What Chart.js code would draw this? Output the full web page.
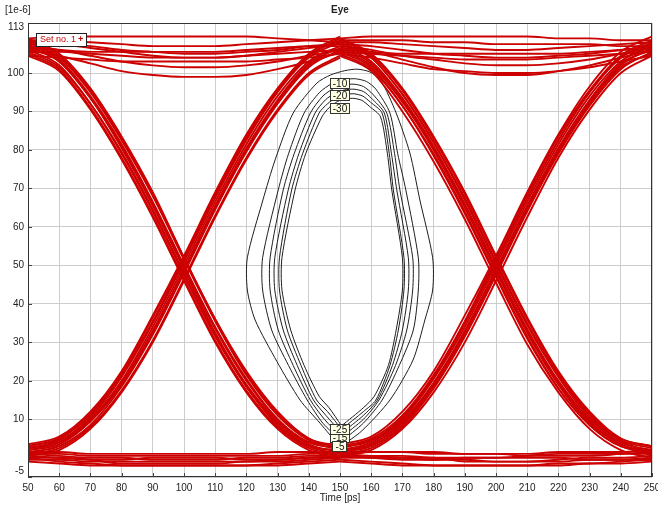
<!DOCTYPE html>
<html>
<head>
<meta charset="utf-8">
<script src="https://cdn.jsdelivr.net/npm/chart.js@4.4.1/dist/chart.umd.min.js"></script>
<style>
  html, body { margin: 0; padding: 0; background: #fff; }
</style>
</head>
<body>
<canvas id="eye" width="658" height="508"></canvas>
<script>
// time axis samples [ps] for the two bit windows of the eye
const timeLeft = [50, 60, 70, 80, 90, 100, 110, 120, 130, 140, 150]
const timeRight = [150, 160, 170, 180, 190, 200, 210, 220, 230, 240, 250]

const yTicks = [-5, 10, 20, 30, 40, 50, 60, 70, 80, 90, 100, 113]

// traces, values in 1e-6
const fallLeft = [
    [108, 104, 95, 82.5, 68, 51.5, 35.5, 21.5, 11, 4.5, 2],
    [106, 102, 92, 79.5, 64.5, 48, 32, 18.5, 9, 3, 1],
    [105, 101, 91, 78, 63, 46.5, 30.5, 17.5, 8, 2.5, 0.5],
    [107.5, 103.5, 94, 81.5, 66.5, 50, 34, 20.5, 10, 4, 2.5],
    [104.5, 100.5, 90.5, 77.5, 62.5, 46, 30, 17, 7.5, 2, 0],
    [108.5, 104.5, 95.5, 83, 68.5, 52, 36, 22, 11.5, 5, 3],
    [106.5, 103, 93.5, 81, 66, 49.5, 33.5, 20, 10, 4, 3.5],
    [107, 103, 93.5, 80.5, 65.5, 49, 32.5, 19, 9.5, 3.5, 1.5],
    [105.5, 101.5, 92, 79, 64, 47.5, 31.5, 18.5, 8.5, 3, 2],
    [109, 105, 96, 83.5, 69, 52, 36, 22.5, 12, 5, 2.5]
]
const riseLeft = [
    [2.5, 4.5, 10.5, 21, 35, 51, 67.5, 82.5, 95, 104, 108],
    [1.5, 3, 8.5, 18.5, 32, 48, 64.5, 79.5, 92, 101.5, 106],
    [3, 5, 11.5, 22, 36.5, 52, 68.5, 83.5, 95.5, 104.5, 108.5],
    [1, 2.5, 8, 17.5, 30.5, 46.5, 63, 78, 90.5, 100, 104.5],
    [2, 4, 10, 20, 34, 50, 66.5, 81.5, 94, 103, 107],
    [3.5, 5.5, 12, 22.5, 37, 52.5, 69, 84, 96, 105, 109.5],
    [0.5, 2, 7.5, 17, 30, 46, 62.5, 77.5, 90, 99.5, 104],
    [2, 3.5, 9.5, 19.5, 33, 49, 65.5, 80.5, 93, 102.5, 106.5],
    [2.5, 4, 9.5, 19, 32.5, 48.5, 65, 80, 92.5, 102, 105.5],
    [3, 5, 11, 21.5, 35.5, 51.5, 68, 83, 95.5, 104.5, 109]
]
const highLeft = [
    [107, 106, 104.5, 103, 102, 101.5, 101.5, 102, 103, 104.5, 106],
    [108.5, 108.5, 108, 107.5, 107, 107, 107, 107.5, 108, 108.5, 109],
    [106, 104.5, 102.5, 100.5, 99.5, 99, 99, 99.5, 101, 103, 105.5],
    [109, 109.5, 109.5, 109.5, 109.5, 109.5, 109.5, 109.5, 109, 108.5, 108],
    [105.5, 105.5, 105, 104.5, 104, 104, 104, 104.5, 105, 105.5, 106],
    [107.5, 107.5, 107, 106, 105.5, 105, 105, 105.5, 106, 107, 107.5],
    [106.5, 106, 105.5, 105.5, 105.5, 105.5, 105.5, 106, 106.5, 107, 107],
    [104.5, 104, 103.5, 103, 103, 103, 103, 103, 103.5, 104, 105],
    [108, 107.5, 106.5, 105.5, 104.5, 104, 104, 104.5, 105.5, 106.5, 107.5]
]
const lowLeft = [
    [-0.5, -0.5, -1, -1, -1, -1, -1, -1, -0.5, 0, 0.5],
    [1, 1, 0.5, 0.5, 0.5, 0.5, 0.5, 0.5, 0.5, 1, 1],
    [0, -1, -1.5, -2, -2, -2, -2, -2, -1.5, -1, -0.5],
    [1.5, 1.5, 1, 1, 1, 1, 1, 1, 1.5, 1.5, 1.5],
    [0.5, 0, -0.5, -0.5, 0, 0, 0, -0.5, -0.5, 0, 0],
    [-1, -1.5, -2, -2, -2, -2, -2, -2, -2, -1.5, -1],
    [0, 0, -0.5, -1.5, -1.5, -1.5, -1.5, -1, -1, -0.5, 0],
    [1, 0.5, 0, 0, -0.5, -0.5, -0.5, 0, 0, 0.5, 0.5]
]
const fallRight = [
    [107, 103, 93.5, 81, 66, 49.5, 33.5, 20, 10, 4, 2],
    [105.5, 101.5, 91.5, 79, 64, 47.5, 31.5, 18, 8.5, 3, 1],
    [108.5, 104.5, 95.5, 83, 68.5, 52, 36, 22, 11.5, 5, 3],
    [106, 102, 92.5, 80, 65, 48.5, 32.5, 19, 9, 3.5, 0.5],
    [104.5, 100.5, 90, 77, 62, 45.5, 29.5, 17, 7.5, 2, 0],
    [107.5, 104, 94.5, 82, 67, 50.5, 34.5, 21, 10.5, 4.5, 2.5],
    [109, 105, 96, 83.5, 69, 52.5, 36.5, 22.5, 12, 5, 3],
    [106.5, 102.5, 93, 80.5, 65.5, 49, 33, 19.5, 9.5, 3.5, 1.5],
    [105, 101, 91.5, 78.5, 63.5, 47, 31, 18, 8.5, 3, 2],
    [108, 104, 94.5, 82, 67.5, 51, 35, 21.5, 11, 4.5, 1]
]
const riseRight = [
    [2, 4, 10, 20.5, 34, 50, 66.5, 81.5, 94, 103, 107],
    [1, 2.5, 8, 18, 31.5, 47.5, 64, 79, 91.5, 101, 105.5],
    [3, 5, 11, 21.5, 35.5, 52, 68.5, 83.5, 95.5, 104.5, 108.5],
    [0.5, 2, 7.5, 17, 30, 46, 62.5, 78, 90.5, 100, 104.5],
    [2.5, 4.5, 10.5, 21, 35, 51, 67.5, 82.5, 95, 104, 108],
    [1.5, 3.5, 9, 19, 32.5, 48.5, 65, 80, 92.5, 102, 106.5],
    [3.5, 5.5, 12, 22.5, 37, 52.5, 69, 84, 96.5, 105.5, 109.5],
    [2, 3.5, 9.5, 19.5, 33, 49, 65.5, 80.5, 93, 102.5, 106],
    [1.5, 3, 8.5, 18.5, 32, 48, 64.5, 79.5, 92, 101.5, 105],
    [3, 4.5, 10.5, 21, 35, 51, 67.5, 82.5, 95, 104, 107.5]
]
const highRight = [
    [106.5, 105.5, 103.5, 101.5, 100, 99.5, 99.5, 100.5, 102, 104, 106],
    [108, 108, 107.5, 107, 106.5, 106, 106, 106.5, 107, 107.5, 108],
    [107, 106, 104.5, 103.5, 102.5, 102, 102, 102.5, 103.5, 105, 106.5],
    [109, 109.5, 109.5, 109.5, 109.5, 109.5, 109.5, 109, 109, 108.5, 108.5],
    [105.5, 105, 104.5, 104, 103.5, 103.5, 103.5, 104, 104.5, 105, 105.5],
    [108.5, 108.5, 108.5, 108, 108, 107.5, 107.5, 107.5, 107.5, 107, 107],
    [106, 105.5, 105, 105, 105, 105, 105, 105, 105.5, 106, 106.5],
    [107.5, 107, 106, 105, 104.5, 104, 104, 104.5, 105, 106, 107],
    [105, 104, 102.5, 101, 100.5, 100, 100, 100.5, 101.5, 103, 104.5]
]
const lowRight = [
    [0.5, 0, -0.5, -0.5, -0.5, -1, -1, -1, -0.5, -0.5, 0],
    [1, 1.5, 1.5, 1, 1, 1, 0.5, 0.5, 0.5, 1, 1.5],
    [-1, -1.5, -2, -2, -2, -2, -2, -2, -1.5, -1.5, -1],
    [1.5, 1.5, 1.5, 1.5, 1, 1, 1, 1.5, 1.5, 1.5, 2],
    [0, 0, 0, -0.5, 0, 0, 0, 0, -0.5, -0.5, -0.5],
    [-0.5, -1, -1.5, -2, -2, -2, -2, -1.5, -1.5, -1, -0.5],
    [0.5, 0.5, 0, 0, -1, -1, -1, -0.5, 0, 0, 0.5],
    [1, 0.5, 0.5, 0, 0, 0, 0.5, 1, 1, 1, 1]
]

// eye contours
const contourLevels = [-5, -10, -15, -20, -25, -30]
const contourX = [
    [150, 143.6, 137.2, 129.8, 122.8, 120.3, 120.3, 125.3, 129.2, 135, 142.6, 147, 151.5, 155.5, 159.5, 163, 168, 172.4, 175.6, 179.7, 179.7, 177.2, 173.4, 166, 157, 150],
    [150.5, 144.5, 139.5, 133.5, 128.1, 125.2, 125.2, 130.2, 133.5, 138.5, 143.5, 147.5, 151.5, 155, 158.5, 161.5, 166, 168.5, 171.1, 175.1, 175.1, 173.5, 169, 163.5, 157.5, 150.5],
    [150.5, 145, 140.5, 135, 130.2, 127.6, 127.6, 131.8, 135.3, 140.5, 144.5, 148, 151.5, 154.5, 157.5, 160.5, 165, 167.5, 169.2, 173.3, 173.3, 171.4, 167.8, 162.5, 157.5, 150.5],
    [150.5, 145.5, 141.5, 136.3, 131.8, 129.1, 129.1, 133.4, 136.8, 142, 145.3, 148.5, 151.5, 154.5, 157.5, 160, 164.2, 166.5, 168.2, 171.9, 171.9, 170, 166.8, 162, 157.5, 150.5],
    [150.5, 146, 142.5, 137.5, 133.1, 130.6, 130.6, 134.5, 138, 143.3, 146, 149, 151.8, 154.5, 157.3, 159.8, 163.5, 165.8, 167.1, 170.5, 170.5, 168.7, 166, 161.5, 157.5, 150.5],
    [150.5, 146.5, 143.3, 138.5, 134.2, 131.4, 131.4, 135.6, 139, 144.2, 146.5, 149.2, 152, 154.5, 157, 159.5, 163, 165.2, 166.6, 170, 170, 168, 165.5, 161, 157.5, 150.5]
]
const contourY = [
    [2.8, 9, 15, 25, 35.8, 43.6, 52, 67, 77.4, 89.6, 97.4, 99.5, 100.6, 101, 100.3, 98.2, 89.6, 79.2, 67, 52, 43.6, 35.8, 25.4, 15, 7, 2.8],
    [4.3, 9, 15, 24, 33.2, 43.6, 52, 69.6, 79, 89.6, 95, 97.3, 98.3, 98.5, 97.8, 95.8, 89.6, 79, 69.6, 52, 43.6, 33.2, 24, 15, 9, 4.3],
    [5.4, 10, 15, 24, 33.2, 43.6, 52, 69.6, 79, 89.6, 94, 96, 96.9, 97.1, 96.5, 94.5, 89.6, 79, 69.6, 52, 43.6, 33.2, 24, 15, 10, 5.4],
    [6.4, 11, 15, 24, 33.2, 43.6, 52, 69.6, 79, 89.6, 93, 94.8, 95.6, 95.8, 95.2, 93.5, 89.6, 79, 69.6, 52, 43.6, 33.2, 24, 15, 11, 6.4],
    [7.4, 12, 15, 24, 33.2, 43.6, 52, 69.6, 79, 89.6, 92, 93.7, 94.4, 94.6, 94, 92.4, 89.6, 79, 69.6, 52, 43.6, 33.2, 24, 15, 12, 7.4],
    [8.3, 13, 16, 24, 33.2, 43.6, 52, 69.6, 79, 88.6, 91, 92.6, 93.3, 93.4, 92.9, 91.3, 88.6, 79, 69.6, 52, 43.6, 33.2, 24, 16, 13, 8.3]
]

// contour labels (drawn in this order, last on top)
const labelText = ['-10', '-20', '-30', '-15', '-25', '-5']
const labelX = [150, 150, 150, 150, 150, 150]
const labelY = [97.5, 94.2, 90.9, 5.3, 7.6, 3.0]

const red = 'rgb(204, 0, 0)'
const font = '"Liberation Sans", Arial, sans-serif'

function traceSet(times, list) {
    return list.map(vals => ({
        data: times.map((t, i) => ({ x: t, y: vals[i] })),
        borderColor: red,
        borderWidth: 1.9,
        pointRadius: 0,
        showLine: true,
        cubicInterpolationMode: 'monotone'
    }))
}

const datasets = [
    ...traceSet(timeLeft, highLeft), ...traceSet(timeLeft, lowLeft),
    ...traceSet(timeLeft, fallLeft), ...traceSet(timeLeft, riseLeft),
    ...traceSet(timeRight, highRight), ...traceSet(timeRight, lowRight),
    ...traceSet(timeRight, fallRight), ...traceSet(timeRight, riseRight)
]

contourLevels.forEach((lvl, k) => {
    datasets.push({
        label: String(lvl),
        data: contourX[k].map((x, i) => ({ x: x, y: contourY[k][i] })),
        borderColor: '#1e1e1e',
        borderWidth: 1,
        pointRadius: 0,
        showLine: true,
        tension: 0.25
    })
})

const eyeDecor = {
    id: 'eyeDecor',
    afterDraw(chart) {
        const { ctx, chartArea: a, scales: { x, y } } = chart
        ctx.save()

        // small inner ticks
        ctx.strokeStyle = '#444'
        ctx.lineWidth = 1
        ctx.beginPath()
        yTicks.forEach(v => {
            const py = Math.round(y.getPixelForValue(v)) + 0.5
            ctx.moveTo(a.left, py); ctx.lineTo(a.left + 4, py)
        })
        x.ticks.forEach(t => {
            const px = Math.round(x.getPixelForValue(t.value)) + 0.5
            ctx.moveTo(px, a.bottom); ctx.lineTo(px, a.bottom - 4)
        })
        ctx.stroke()

        // plot frame
        ctx.strokeStyle = '#333'
        ctx.strokeRect(a.left + 0.5, a.top + 0.5, a.right - a.left - 1, a.bottom - a.top - 1)

        // y tick labels, end ones pulled inside
        ctx.fillStyle = '#222'
        ctx.font = '10px ' + font
        ctx.textAlign = 'right'
        ctx.textBaseline = 'middle'
        yTicks.forEach(v => {
            let py = y.getPixelForValue(v)
            py = Math.min(Math.max(py, a.top + 4), a.bottom - 6)
            ctx.fillText(String(v), a.left - 4, py)
        })

        // titles
        ctx.textAlign = 'left'
        ctx.fillText('[1e-6]', 5, 10)
        ctx.textAlign = 'center'
        ctx.fillText('Time [ps]', (a.left + a.right) / 2, 498)
        ctx.font = 'bold 10px ' + font
        ctx.fillText('Eye', (a.left + a.right) / 2, 10)

        // contour labels
        ctx.font = '10px ' + font
        labelText.forEach((txt, i) => {
            const px = Math.round(x.getPixelForValue(labelX[i]))
            const py = Math.round(y.getPixelForValue(labelY[i]))
            const w = Math.round(ctx.measureText(txt).width) + 6
            const h = 11
            const bx = px - Math.round(w / 2), by = py - 5
            ctx.fillStyle = 'rgb(255, 255, 228)'
            ctx.fillRect(bx, by, w, h)
            ctx.strokeStyle = '#333'
            ctx.strokeRect(bx + 0.5, by + 0.5, w - 1, h - 1)
            ctx.fillStyle = '#111'
            ctx.fillText(txt, px, py + 1)
        })

        // legend box
        const lx = a.left + 8, ly = a.top + 10
        ctx.fillStyle = '#fff'
        ctx.fillRect(lx, ly, 51, 14)
        ctx.strokeStyle = '#222'
        ctx.strokeRect(lx + 0.5, ly + 0.5, 50, 13)
        ctx.fillStyle = red
        ctx.textAlign = 'left'
        ctx.font = '9px ' + font
        ctx.fillText('Set no. 1', lx + 4, ly + 7)
        ctx.font = 'bold 9px ' + font
        ctx.fillText('+', lx + 42, ly + 7)

        ctx.restore()
    }
}

new Chart('eye', {
    type: 'scatter',
    data: { datasets },
    options: {
        responsive: false,
        animation: false,
        devicePixelRatio: 1,
        layout: { padding: { top: 23, right: 6, left: 0, bottom: 0 } },
        plugins: {
            legend: { display: false },
            tooltip: { enabled: false },
            title: { display: false }
        },
        scales: {
            x: {
                type: 'linear',
                min: 50,
                max: 250,
                border: { display: false },
                grid: { color: 'rgb(205, 205, 205)', drawTicks: false },
                ticks: { stepSize: 10, padding: 5, color: '#222', autoSkip: false, maxRotation: 0, font: { family: font, size: 10 } },
                afterFit: s => { s.height = 31; s.paddingLeft = 0; s.paddingRight = 0 }
            },
            y: {
                type: 'linear',
                min: -5,
                max: 113,
                border: { display: false },
                grid: { color: 'rgb(205, 205, 205)', drawTicks: false },
                ticks: { display: false },
                afterBuildTicks: s => { s.ticks = yTicks.map(v => ({ value: v })) },
                afterFit: s => { s.width = 28 }
            }
        }
    },
    plugins: [eyeDecor]
})
</script>
</body>
</html>
